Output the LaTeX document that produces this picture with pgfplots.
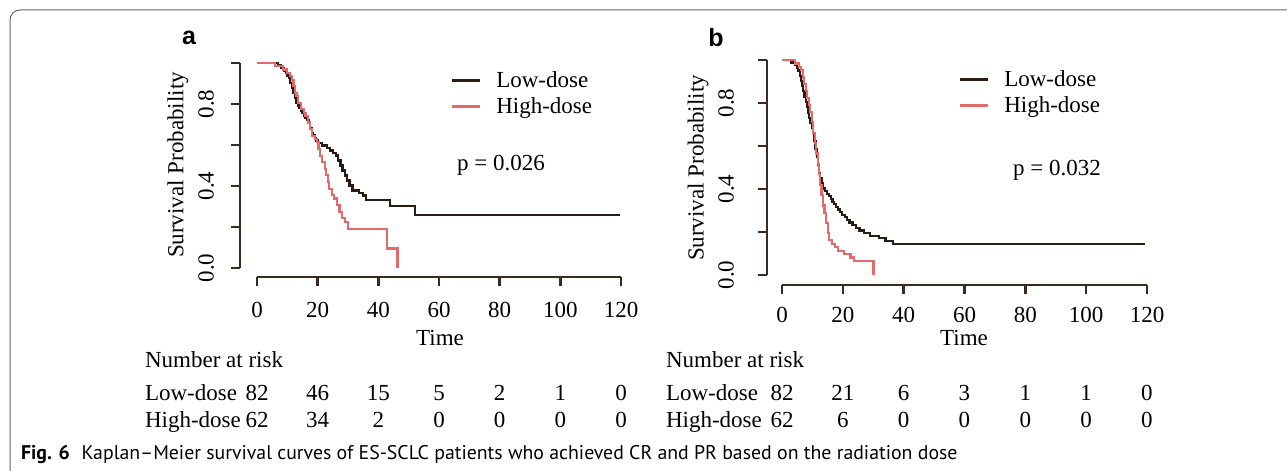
\documentclass[border=0pt]{standalone}
\usepackage{pgfplots}
\pgfplotsset{compat=1.18}
\usepackage{fontspec}
\setmainfont{Liberation Serif}
\newfontfamily\labfont{Liberation Sans}
\newfontfamily\capfont{PT Sans}
\definecolor{lowcol}{HTML}{2A1C15}
\definecolor{highcol}{HTML}{E26A6A}
\definecolor{axcol}{HTML}{3A2A20}
\newcommand\tf{\fontsize{11.5}{13}\selectfont}

\pgfplotsset{
  km/.style={
    scale only axis, anchor=south west,
    xmin=0, xmax=120, ymin=0, ymax=1,
    axis x line*=bottom, axis y line*=left,
    axis line style={-, axcol, line width=1.3pt},
    xtick={0,20,40,60,80,100,120},
    xticklabels={0,20,40,60,80,100,120},
    ytick={0,0.2,0.4,0.6,0.8,1},
    yticklabels={0.0,,0.4,,0.8,},
    tick align=outside, major tick length=4.5pt,
    tick style={axcol, line width=1.3pt},
    ticklabel style={font=\tf},
    yticklabel style={rotate=90, anchor=south},
    clip=false,
    legend cell align=left,
    legend image code/.code={\draw[##1, line width=1.5pt] (0pt,0pt) -- (14pt,0pt);},
    legend style={draw=none, fill=none, anchor=west, font=\tf, row sep=2.5pt,
      inner sep=0pt, nodes={inner sep=0.5pt}, column sep=7pt},
  },
  lowline/.style={lowcol, line width=1.1pt, const plot mark left},
  highline/.style={highcol, line width=1.1pt, const plot mark left},
}

\begin{document}
\begin{tikzpicture}
\begin{scope}[x=0.5pt,y=-0.5pt]
\path[use as bounding box] (0,0) rectangle (1287,469);
\draw[line width=0.5pt, black!60, rounded corners=5pt] (1300,10) -- (10,10) -- (10,480);
\end{scope}

% panel a
\begin{axis}[km, at={(128.5pt,-134pt)}, width=182pt, height=102.5pt,
  axis x line shift=4.5pt, axis y line shift=8.5pt,
  xticklabel shift=4.8pt, yticklabel shift=5pt,
  xticklabels={0,20,40,60,80,100,\raisebox{3pt}{120}},
  legend style={at={(0.530,0.849)}}]
\addplot[lowline] coordinates {
(0,1) (7.0,0.988) (8.0,0.976) (8.8,0.963) (9.5,0.951) (10.0,0.939) (10.5,0.927)
(11.0,0.902) (11.5,0.878) (12.0,0.854) (12.5,0.829) (13.0,0.805) (13.5,0.793)
(14.0,0.780) (14.5,0.768) (15.0,0.756) (15.5,0.744) (16.0,0.732) (16.5,0.720)
(17.0,0.707) (17.5,0.683) (18.0,0.659) (18.5,0.646) (19.0,0.634) (19.5,0.622)
(20.0,0.610) (21.5,0.598) (23.0,0.585) (24.0,0.573) (25.0,0.561) (26.0,0.549)
(26.8,0.524) (27.5,0.500) (28.2,0.476) (29.0,0.451) (29.8,0.427) (30.5,0.402)
(31.5,0.378) (33.5,0.366) (35.0,0.354) (36.0,0.333) (43.9,0.301) (52.2,0.260)
(119.7,0.260)};
\addlegendentry{Low-dose}
\addplot[highline] coordinates {
(0,1) (6.0,0.984) (8.5,0.968) (10.0,0.952) (11.0,0.935) (11.5,0.919) (12.0,0.887)
(12.5,0.855) (13.0,0.839) (13.5,0.806) (14.5,0.774) (15.5,0.758) (16.0,0.742)
(16.8,0.710) (17.5,0.677) (18.0,0.645) (19.0,0.629) (19.8,0.613) (20.3,0.581)
(20.8,0.548) (21.5,0.516) (22.3,0.484) (22.8,0.452) (23.3,0.419) (23.8,0.387)
(24.8,0.355) (25.5,0.339) (26.5,0.306) (27.2,0.274) (28.0,0.242) (29.0,0.226)
(30.0,0.190) (42.8,0.095) (46.3,0.0)};
\addlegendentry{High-dose}
\end{axis}

% panel b
\begin{axis}[km, at={(391pt,-137.5pt)}, width=182.5pt, height=107.5pt,
  axis x line shift=5pt, axis y line shift=7.5pt,
  xticklabel shift=3.2pt, yticklabel shift=8.5pt,
  legend style={at={(0.482,0.848)}}]
\addplot[lowline] coordinates {
(0,1) (3.0,0.988) (4.2,0.976) (4.8,0.963) (5.3,0.951) (5.8,0.927) (6.2,0.902)
(6.6,0.878) (7.0,0.854) (7.4,0.829) (7.8,0.805) (8.2,0.780) (8.6,0.756)
(9.0,0.732) (9.4,0.707) (9.8,0.683) (10.2,0.659) (10.6,0.622) (11.0,0.585)
(11.4,0.549) (11.8,0.512) (12.2,0.476) (12.6,0.451) (13.0,0.427) (13.6,0.402)
(14.2,0.390) (14.8,0.378) (15.4,0.366) (16.0,0.354) (16.6,0.341) (17.2,0.329)
(17.8,0.317) (18.4,0.305) (19.0,0.293) (19.8,0.280) (20.6,0.268) (21.4,0.256)
(22.2,0.244) (23.2,0.232) (24.2,0.220) (25.5,0.207) (27.0,0.195) (29.0,0.183)
(32.0,0.171) (34.0,0.159) (36.5,0.146) (119.5,0.146)};
\addlegendentry{Low-dose}
\addplot[highline] coordinates {
(0,1) (4.4,0.984) (5.5,0.968) (6.2,0.952) (6.8,0.919) (7.3,0.887) (7.8,0.855)
(8.3,0.823) (8.8,0.790) (9.3,0.758) (9.8,0.710) (10.3,0.661) (10.8,0.613)
(11.3,0.565) (11.8,0.516) (12.2,0.468) (12.6,0.419) (13.0,0.371) (13.5,0.323)
(14.0,0.290) (14.5,0.242) (15.0,0.194) (15.5,0.161) (16.5,0.145) (17.5,0.129)
(18.5,0.113) (20.5,0.097) (22.5,0.081) (23.6,0.065) (30.1,0.0)};
\addlegendentry{High-dose}
\end{axis}

\begin{scope}[x=0.5pt,y=-0.5pt]
\node[font=\labfont\bfseries\fontsize{12.5}{14}\selectfont] at (189,38) {a};
\node[font=\labfont\bfseries\fontsize{12.5}{14}\selectfont] at (716,38) {b};
\node[rotate=90,font=\tf] at (178,165) {Survival Probability};
\node[rotate=90,font=\tf] at (698,168) {Survival Probability};
\node[anchor=west,font=\tf] at (450,165) {p = 0.026};
\node[anchor=west,font=\tf] at (1006,170) {p = 0.032};
\node[font=\tf] at (440,338) {Time};
\node[font=\tf] at (964,338) {Time};
% numbers at risk
\node[anchor=base west,font=\tf] at (138,368) {Number at risk};
\node[anchor=base west,font=\tf] at (138,401) {Low-dose};
\node[anchor=base west,font=\tf] at (138,428) {High-dose};
\foreach \v [count=\i from 0] in {82,46,15,5,2,1,0}
  \node[anchor=base,font=\tf] at (257+60.67*\i,401) {\v};
\foreach \v [count=\i from 0] in {62,34,2,0,0,0,0}
  \node[anchor=base,font=\tf] at (257+60.67*\i,428) {\v};
\node[anchor=base west,font=\tf] at (659,368) {Number at risk};
\node[anchor=base west,font=\tf] at (659,401) {Low-dose};
\node[anchor=base west,font=\tf] at (659,428) {High-dose};
\foreach \v [count=\i from 0] in {82,21,6,3,1,1,0}
  \node[anchor=base,font=\tf] at (782+60.83*\i,401) {\v};
\foreach \v [count=\i from 0] in {62,6,0,0,0,0,0}
  \node[anchor=base,font=\tf] at (782+60.83*\i,428) {\v};
\node[anchor=base west,font=\capfont\fontsize{9.9}{11}\selectfont] at (14,460)
  {\textbf{Fig. 6}\hspace{0.6em}Kaplan–Meier survival curves of ES-SCLC patients who achieved CR and PR based on the radiation dose};
\end{scope}
\end{tikzpicture}
\end{document}
